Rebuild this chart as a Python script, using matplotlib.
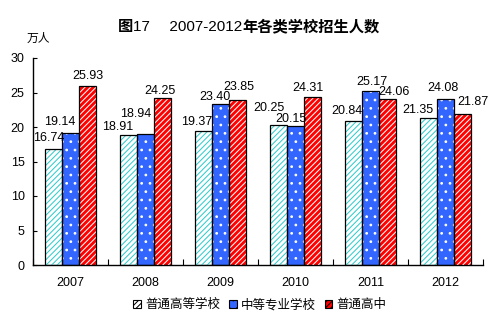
import numpy as np
import matplotlib
matplotlib.use("Agg")
import matplotlib.pyplot as plt
from matplotlib.patches import Patch

plt.rcParams['font.family'] = ['Liberation Sans', 'Noto Sans CJK SC']
plt.rcParams['hatch.linewidth'] = 0.75

years = ['2007', '2008', '2009', '2010', '2011', '2012']
series_names = ['普通高等学校', '中等专业学校', '普通高中']
higher_edu = [16.74, 18.91, 19.37, 20.25, 20.84, 21.35]
secondary_voc = [19.14, 18.94, 23.40, 20.15, 25.17, 24.08]
high_school = [25.93, 24.25, 23.85, 24.31, 24.06, 21.87]
values = [higher_edu, secondary_voc, high_school]

# styles: face, hatch colour, hatch
styles = [('white', '#33CCCC', '//////'),
          ('#3366FF', 'white', '..'),
          ('#FF0000', 'white', '//////')]

# label offsets in pixels (dx, dy above bar top) to mimic the original placement
label_off = [
    [(-5, 11), (-11, 8), (-7, 9), (-10, 17), (-7, 10), (-11, 8)],
    [(-11, 11), (-10, 20), (-6, 7), (-5, 7), (1, 9), (-3, 11)],
    [(0, 10), (-3, 7), (1, 13), (-5, 9), (6, 7), (10, 12)],
]

fig = plt.figure(figsize=(4.98, 3.34), dpi=100)
ax = fig.add_axes([33 / 498, 1 - 265 / 334, 450 / 498, 207 / 334])

x = np.arange(len(years))
w = 0.227
for k, (vals, (face, hcol, hatch)) in enumerate(zip(values, styles)):
    pos = x + (k - 1) * w
    ax.bar(pos, vals, w, color=face, linewidth=0, zorder=2)
    ax.bar(pos, vals, w, facecolor='none', edgecolor=hcol, hatch=hatch, linewidth=0, zorder=3)
    ax.bar(pos, vals, w, facecolor='none', edgecolor='black', linewidth=0.9, zorder=4)
    for i, v in enumerate(vals):
        dx, dy = label_off[k][i]
        ax.annotate(f'{v:.2f}', (pos[i], v), xytext=(dx, dy), textcoords='offset pixels',
                    ha='center', va='center', fontsize=9, zorder=5)

ax.set_xlim(-0.5, len(years) - 0.5)
ax.set_ylim(0, 30)
ax.set_yticks(range(0, 31, 5))
ax.set_xticks(x)
ax.set_xticklabels(years)
ax.set_xticks(np.arange(-0.5, len(years)), minor=True)
ax.tick_params(axis='x', which='major', length=0, pad=9, labelsize=9)
ax.tick_params(axis='x', which='minor', direction='in', length=4, width=0.8)
ax.tick_params(axis='y', direction='in', length=3, width=0.8, labelsize=9, pad=6)
for s in ['top', 'right']:
    ax.spines[s].set_visible(False)
for s in ['left', 'bottom']:
    ax.spines[s].set_linewidth(1.0)

fig.text(38 / 498, 1 - 39 / 334, '万人', ha='center', va='center', fontsize=8.5)

# title with mixed weights
renderer = fig.canvas.get_renderer()
parts = [('图', 'bold'), ('17\u3000 2007-2012', 'normal'), ('年各类学校招生人数', 'bold')]
tx = 118 / 498
ty = 1 - 27 / 334
for txt, wt in parts:
    t = fig.text(tx, ty, txt, ha='left', va='center', fontsize=11, fontweight=wt)
    bb = t.get_window_extent(renderer)
    tx += bb.width / fig.bbox.width

handles = [Patch(facecolor=f, edgecolor=h, hatch=ht, linewidth=0) for f, h, ht in styles]
leg = fig.legend(handles, series_names, loc='center', bbox_to_anchor=(260 / 498, 1 - 305 / 334),
                 ncol=3, frameon=False, fontsize=9, handlelength=0.6, handleheight=0.6,
                 handletextpad=0.35, columnspacing=0.7)
for p in leg.get_patches():
    p.set_edgecolor('black')
    p.set_linewidth(0.8)

fig.savefig('out.png', dpi=100)
